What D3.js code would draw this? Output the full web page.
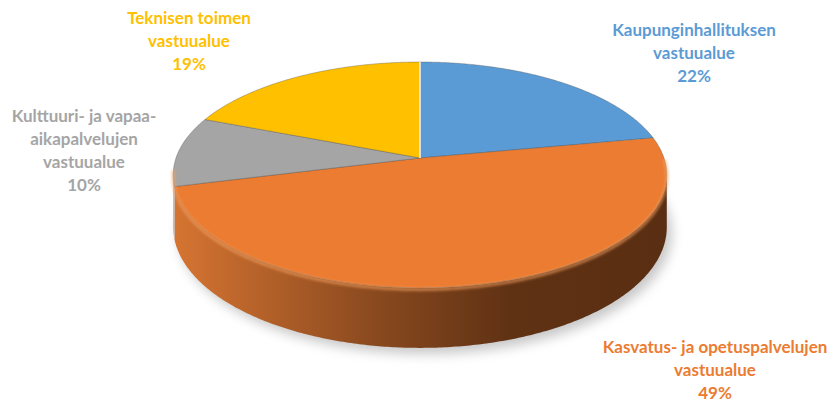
<!DOCTYPE html>
<html>
<head>
<meta charset="utf-8">
<script src="https://cdn.jsdelivr.net/npm/d3@7"></script>
<style>
  body { margin: 0; background: #fff; }
  text { font-family: Lato, "Open Sans", sans-serif; font-weight: bold; }
</style>
</head>
<body>
<svg id="pie-svg" width="835" height="405"></svg>
<script>
// data
let categories = ['Kaupunginhallituksen vastuualue', 'Kasvatus- ja opetuspalvelujen vastuualue',
    'Kulttuuri- ja vapaa-aikapalvelujen vastuualue', 'Teknisen toimen vastuualue'];
let labelLines = [
    ['Kaupunginhallituksen', 'vastuualue'],
    ['Kasvatus- ja opetuspalvelujen', 'vastuualue'],
    ['Kulttuuri- ja vapaa-', 'aikapalvelujen', 'vastuualue'],
    ['Teknisen toimen', 'vastuualue']
];
let values = [22, 49, 10, 19];
let percentLabels = ['22%', '49%', '10%', '19%'];

let colors = ['#5B9BD5', '#EB7C32', '#A5A5A5', '#FFC000'];
let sideColors = [
    ['#6fa4d6', '#2f5b85'],
    ['#D57432', '#5A2E12'],
    ['#b0b0b0', '#5a5a5a'],
    ['#e0a800', '#7a5a00']
];

// label anchors (center x, first baseline) - layout only
let labelAnchor = [[694, 36], [715, 353], [84, 122], [189, 24]];
let lineH = 23;

let svg = d3.select('#pie-svg');
let cx = 420, cy = 158, rx = 244, ry = 110.4, persp = 0.15, depth = 51;

// perspective projection of a point on the unit circle (angle clockwise from top)
function proj(a, down) {
    let u = Math.sin(a), v = -Math.cos(a);
    let w = 1 / (1 - persp * v);
    return [cx + rx * u * w, cy + ry * v * w + (down ? depth * w : 0)];
}
function arcPts(a0, a1, down) {
    let n = Math.max(2, Math.ceil((a1 - a0) / 0.01));
    return d3.range(n + 1).map(i => proj(a0 + (a1 - a0) * i / n, down));
}

// find visible range of the side wall (horizontal extremes)
let angles = d3.range(0, 2 * Math.PI, 0.001);
let aRight = angles.filter(a => a < Math.PI).reduce((b, a) => proj(a)[0] > proj(b)[0] ? a : b, 0.1);
let aLeft = angles.filter(a => a > Math.PI).reduce((b, a) => proj(a)[0] < proj(b)[0] ? a : b, Math.PI + 0.1);

let pie = d3.pie().sort(null).value(d => d);
let arcs = pie(values);

let defs = svg.append('defs');
defs.append('filter').attr('id', 'blur').attr('x', '-20%').attr('y', '-20%').attr('width', '140%').attr('height', '140%')
    .append('feGaussianBlur').attr('stdDeviation', 6);
defs.append('filter').attr('id', 'soft')
    .append('feGaussianBlur').attr('stdDeviation', 1.6);

sideColors.forEach((c, i) => {
    let g = defs.append('linearGradient').attr('id', 'side' + i)
        .attr('gradientUnits', 'userSpaceOnUse')
        .attr('x1', cx - rx).attr('x2', cx + rx).attr('y1', 0).attr('y2', 0);
    g.append('stop').attr('offset', '0%').attr('stop-color', c[0]);
    g.append('stop').attr('offset', '40%').attr('stop-color', d3.interpolateRgb(c[0], c[1])(0.6));
    g.append('stop').attr('offset', '68%').attr('stop-color', d3.interpolateRgb(c[0], c[1])(0.95));
    g.append('stop').attr('offset', '100%').attr('stop-color', c[1]);
});

let line = d3.line();

// shadow
let shadowPts = arcPts(0, 2 * Math.PI, true);
svg.append('path')
    .attr('d', line(shadowPts) + 'Z')
    .attr('transform', 'translate(5,6)')
    .attr('fill', '#9a9a9a')
    .attr('opacity', 0.55)
    .attr('filter', 'url(#blur)');

// side walls
let sideG = svg.append('g');
arcs.forEach((d, i) => {
    let a0 = Math.max(d.startAngle, aRight), a1 = Math.min(d.endAngle, aLeft);
    if (a1 <= a0) return;
    let top = arcPts(a0, a1, false);
    let bottom = arcPts(a0, a1, true).reverse();
    sideG.append('path')
        .attr('d', line(top.concat(bottom)) + 'Z')
        .attr('fill', `url(#side${i})`);
});

// top faces
let topG = svg.append('g');
arcs.forEach((d, i) => {
    let pts = [[cx, cy]].concat(arcPts(d.startAngle, d.endAngle, false));
    topG.append('path')
        .attr('d', line(pts) + 'Z')
        .attr('fill', colors[i])
        .attr('stroke', 'rgba(80,80,80,0.45)')
        .attr('stroke-width', 0.8)
        .attr('stroke-linejoin', 'round');
});
// light seam at the start angle
let p0 = proj(0, false);
topG.append('line')
    .attr('x1', cx).attr('y1', cy).attr('x2', p0[0]).attr('y2', p0[1])
    .attr('stroke', '#f4f4f4').attr('stroke-width', 1.6);

// bevel highlight along the front edge
let bevelPts = arcPts(aRight - 0.15, aLeft + 0.05, false).map(p => [p[0], p[1] + 1.5]);
svg.append('path')
    .attr('d', line(bevelPts))
    .attr('fill', 'none')
    .attr('stroke', '#F7A261')
    .attr('stroke-width', 2.5)
    .attr('opacity', 0.8)
    .attr('filter', 'url(#soft)');

// labels
let labelG = svg.append('g');
arcs.forEach((d, i) => {
    let lines = labelLines[i].concat([percentLabels[i]]);
    let t = labelG.append('text')
        .attr('text-anchor', 'middle')
        .attr('fill', colors[i])
        .style('font-size', '17px');
    lines.forEach((s, j) => {
        t.append('tspan')
            .attr('x', labelAnchor[i][0])
            .attr('y', labelAnchor[i][1] + j * lineH)
            .text(s);
    });
});
</script>
</body>
</html>
